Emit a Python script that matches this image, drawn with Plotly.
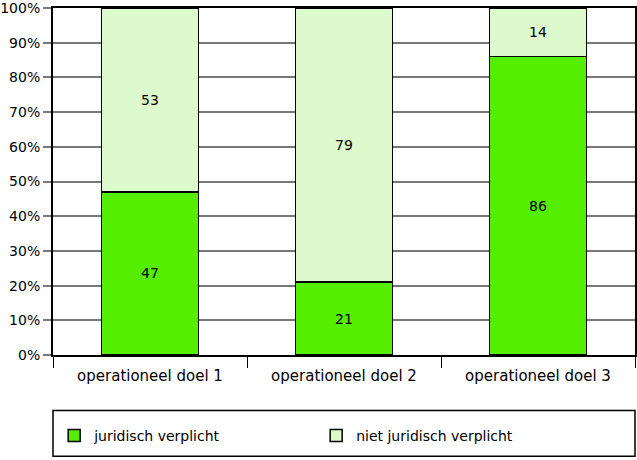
import plotly.graph_objects as go

categories = ["operationeel doel 1", "operationeel doel 2", "operationeel doel 3"]
juridisch = [47, 21, 86]
niet_juridisch = [53, 79, 14]
series_names = ["juridisch verplicht", "niet juridisch verplicht"]
y_ticks = list(range(0, 101, 10))

font = "DejaVu Sans, Liberation Sans, sans-serif"

fig = go.Figure()
fig.add_trace(go.Bar(
    x=categories, y=juridisch, name=series_names[0],
    marker=dict(color="#55EE00", line=dict(color="black", width=1.5)),
    text=juridisch, textposition="inside", insidetextanchor="middle",
    textfont=dict(color="black", size=14, family=font), width=0.5,
))
fig.add_trace(go.Bar(
    x=categories, y=niet_juridisch, name=series_names[1],
    marker=dict(color="#DDFACC", line=dict(color="black", width=1.5)),
    text=niet_juridisch, textposition="inside", insidetextanchor="middle",
    textfont=dict(color="black", size=14, family=font), width=0.5,
))

fig.update_layout(
    barmode="stack",
    width=637, height=460,
    margin=dict(l=53, r=2, t=8, b=105, autoexpand=False),
    plot_bgcolor="white", paper_bgcolor="white",
    font=dict(family=font, size=14, color="black"),
    showlegend=True,
    legend=dict(
        orientation="h", x=0.002, xanchor="left", y=-0.233, yanchor="middle",
        entrywidth=217, entrywidthmode="pixels", itemwidth=30,
        font=dict(size=14, family=font), bgcolor="rgba(0,0,0,0)",
        traceorder="normal",
    ),
    shapes=[dict(
        type="rect", xref="paper", yref="paper",
        x0=0, x1=1, y0=-0.292, y1=-0.160,
        line=dict(color="black", width=1.5), fillcolor="rgba(0,0,0,0)",
    )],
)

fig.update_xaxes(
    showline=True, linecolor="black", linewidth=2, mirror=True,
    ticks="outside", tickson="boundaries", ticklen=11, tickcolor="black", tickwidth=1,
    showgrid=False, tickfont=dict(size=15, family=font), ticklabelstandoff=6,
    automargin=False,
)
fig.update_yaxes(
    range=[0, 100], tickvals=y_ticks, ticktext=[f"{v}%" for v in y_ticks],
    showline=True, linecolor="black", linewidth=2, mirror=True,
    ticks="outside", ticklen=8, tickcolor="#777777", tickwidth=2,
    showgrid=True, gridcolor="#777777", gridwidth=2,
    tickfont=dict(size=14, family=font), zeroline=False,
    ticklabeloverflow="allow", automargin=False,
)

fig.write_html("out.html")
